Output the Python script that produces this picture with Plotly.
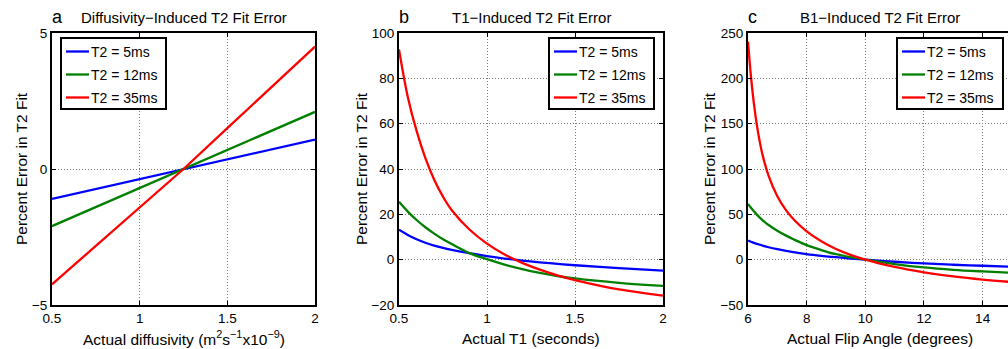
import plotly.graph_objects as go

# ---------------- data ----------------
series_names = ["T2 = 5ms", "T2 = 12ms", "T2 = 35ms"]
series_colors = ["#0000FF", "#008000", "#FF0000"]

# panel a: diffusivity
x_a = [0.5, 1.0, 1.25, 1.5, 2.0]
a_5ms = [-1.10, -0.37, 0.0, 0.37, 1.08]
a_12ms = [-2.10, -0.70, 0.0, 0.70, 2.10]
a_35ms = [-4.24, -1.43, 0.0, 1.50, 4.50]

# panel b: T1
x_b = [0.5, 0.55, 0.6, 0.65, 0.7, 0.75, 0.8, 0.9, 1.0, 1.1, 1.2, 1.3, 1.4, 1.5, 1.75, 2.0]
b_5ms = [13.2, 10.9, 9.0, 7.45, 6.2, 5.2, 4.35, 2.85, 1.55, 0.5, -0.4, -1.18, -1.86, -2.46, -3.75, -4.8]
b_12ms = [25.5, 21.2, 17.5, 14.3, 11.5, 9.05, 6.9, 2.9, 0.2, -2.2, -4.2, -5.85, -7.2, -8.3, -10.25, -11.6]
b_35ms = [92.8, 71.8, 56.8, 44.8, 35.3, 27.8, 21.8, 13.3, 7.1, 2.3, -1.4, -4.4, -6.9, -9.0, -13.15, -15.9]

# panel c: flip angle
x_c = [6, 6.1, 6.2, 6.3, 6.4, 6.5, 6.7, 7.0, 7.3, 7.6, 8.0, 8.5, 9.0, 9.5, 10, 11, 12, 13, 14, 15]
c_5ms = [21.0, 19.8, 18.6, 17.5, 16.5, 15.5, 13.7, 11.5, 9.7, 8.1, 6.2, 4.3, 2.7, 1.3, 0.0, -2.3, -4.2, -5.6, -6.7, -7.7]
c_12ms = [61.5, 57.2, 53.3, 49.7, 46.4, 43.4, 38.2, 32.0, 26.5, 21.8, 16.0, 10.6, 6.0, 2.7, 0.0, -4.8, -8.6, -11.2, -13.0, -14.5]
c_35ms = [240.5, 202.5, 172.5, 149.0, 130.2, 115.0, 92.7, 69.9, 54.3, 42.9, 31.3, 20.3, 11.8, 5.3, 0.0, -8.0, -14.0, -18.5, -22.0, -24.7]

titles = ["Diffusivity−Induced T2 Fit Error", "T1−Induced T2 Fit Error", "B1−Induced T2 Fit Error"]
letters = ["a", "b", "c"]
xlabels = ["Actual diffusivity (m<sup>2</sup>s<sup>−1</sup>x10<sup>−9</sup>)",
           "Actual T1 (seconds)", "Actual Flip Angle (degrees)"]
ylabel = "Percent Error in T2 Fit"

# ---------------- figure ----------------
W, H = 1008, 349
FONT = "Liberation Sans, Arial, Helvetica, sans-serif"


def px(x):
    return x / W


def py(y):
    return 1 - y / H


fig = go.Figure()

panels = [
    (x_a, [a_5ms, a_12ms, a_35ms], "linear"),
    (x_b, [b_5ms, b_12ms, b_35ms], "spline"),
    (x_c, [c_5ms, c_12ms, c_35ms], "spline"),
]
for p, (xs, ys_list, shape) in enumerate(panels):
    xa = "x" if p == 0 else f"x{p+1}"
    ya = "y" if p == 0 else f"y{p+1}"
    for name, color, ys in zip(series_names, series_colors, ys_list):
        fig.add_trace(go.Scatter(
            x=xs, y=ys, mode="lines", name=name,
            line=dict(color=color, width=2.3, shape=shape, smoothing=1.0),
            xaxis=xa, yaxis=ya, showlegend=False,
        ))

ydom = [py(305), py(33)]
xdoms = [[px(52), px(315)], [px(399), px(663)], [px(748), 1.0]]
xranges = [[0.5, 2.0], [0.5, 2.0], [6, 6 + (1008 - 748) / 29.33]]
xdticks = [0.5, 0.5, 2]
yranges = [[-5, 5], [-20, 100], [-50, 250]]
ydticks = [5, 20, 50]

axis_common = dict(
    showline=True, linecolor="black", linewidth=2,
    ticks="inside", ticklen=4, tickwidth=1, tickcolor="black",
    showgrid=True, gridcolor="#7a7a7a", griddash="1px,2px", gridwidth=1,
    zeroline=False, automargin=False,
    tickfont=dict(family=FONT, size=13.5, color="black"),
)

layout_axes = {}
for p in range(3):
    suf = "" if p == 0 else str(p + 1)
    layout_axes[f"xaxis{suf}"] = dict(
        axis_common, domain=xdoms[p], range=xranges[p], dtick=xdticks[p], tick0=xranges[p][0],
        anchor=f"y{suf}", mirror="ticks",
    )
    layout_axes[f"yaxis{suf}"] = dict(
        axis_common, domain=ydom, range=yranges[p], dtick=ydticks[p],
        anchor=f"x{suf}", mirror=("ticks" if p < 2 else False),
    )

annotations = []
shapes = []
mids = [1.25, 1.25, 10.5]
ytitle_x = [22, 362, 710]
legend_boxes = [(61, 166), (549, 654), (897, 1003)]
LEG_T, LEG_B = 38, 109
for p in range(3):
    suf = "" if p == 0 else str(p + 1)
    # panel title
    annotations.append(dict(
        text=titles[p], xref=f"x{suf}", x=mids[p], yref="paper", y=py(17),
        xanchor="center", yanchor="middle", showarrow=False,
        font=dict(family=FONT, size=15, color="black"),
    ))
    # panel letter
    annotations.append(dict(
        text=letters[p], xref="paper", x=xdoms[p][0] - px(2), yref="paper", y=py(17),
        xanchor="left", yanchor="middle", showarrow=False,
        font=dict(family=FONT, size=18, color="black"),
    ))
    # x axis title
    annotations.append(dict(
        text=xlabels[p], xref=f"x{suf}", x=mids[p], yref="paper", y=py(338),
        xanchor="center", yanchor="middle", showarrow=False,
        font=dict(family=FONT, size=15.5, color="black"),
    ))
    # y axis title
    annotations.append(dict(
        text=ylabel, xref="paper", x=px(ytitle_x[p]), yref="paper", y=py(169),
        xanchor="center", yanchor="middle", textangle=-90, showarrow=False,
        font=dict(family=FONT, size=15.5, color="black"),
    ))
    # legend box
    L, R = legend_boxes[p]
    shapes.append(dict(
        type="rect", xref="paper", yref="paper",
        x0=px(L), x1=px(R), y0=py(LEG_B), y1=py(LEG_T),
        line=dict(color="black", width=2), fillcolor="white", layer="above",
    ))
    for i, (name, color) in enumerate(zip(series_names, series_colors)):
        yc = LEG_T + 13.5 + 23 * i
        shapes.append(dict(
            type="line", xref="paper", yref="paper",
            x0=px(L + 5), x1=px(L + 28), y0=py(yc), y1=py(yc),
            line=dict(color=color, width=2.3), layer="above",
        ))
        annotations.append(dict(
            text=name, xref="paper", x=px(L + 28), yref="paper", y=py(yc),
            xanchor="left", yanchor="middle", showarrow=False,
            font=dict(family=FONT, size=14, color="black"),
        ))

fig.update_layout(
    width=W, height=H, margin=dict(l=0, r=0, t=0, b=0, autoexpand=False),
    paper_bgcolor="white", plot_bgcolor="white",
    font=dict(family=FONT, color="black"),
    showlegend=False, hovermode=False,
    annotations=annotations, shapes=shapes,
    **layout_axes,
)

fig.write_html(
    "out.html",
    config={"displayModeBar": False, "staticPlot": True},
    post_script="document.body.style.margin='0px';",
)
